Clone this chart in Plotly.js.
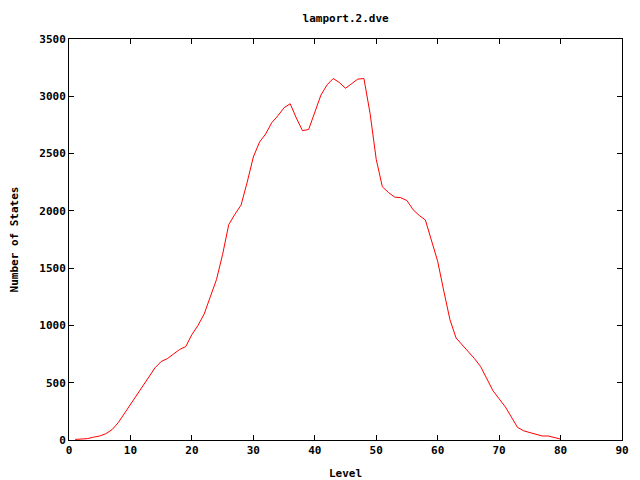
<!DOCTYPE html>
<html>
<head>
<meta charset="utf-8">
<script src="https://cdn.plot.ly/plotly-3.0.1.min.js"></script>
<style>html,body{margin:0;padding:0;background:#fff;}#chart{width:640px;height:480px;}</style>
</head>
<body>
<div id="chart"></div>
<script>
const levels = [1,2,3,4,5,6,7,8,9,10,11,12,13,14,15,16,17,18,19,20,21,22,23,24,25,26,27,28,29,30,31,32,33,34,35,36,37,38,39,40,41,42,43,44,45,46,47,48,49,50,51,52,53,54,55,56,57,58,59,60,61,62,63,64,65,66,67,68,69,70,71,72,73,74,75,76,77,78,79,80];
const states = [5,8,12,25,35,55,90,150,230,320,400,480,560,630,685,710,750,790,815,920,1000,1100,1250,1400,1620,1880,1970,2050,2250,2470,2600,2670,2770,2830,2900,2935,2810,2700,2710,2870,3010,3100,3155,3120,3070,3110,3150,3155,2850,2450,2210,2160,2120,2115,2090,2010,1960,1920,1750,1560,1300,1050,890,830,770,710,640,540,430,360,290,200,110,80,65,45,35,35,20,8];
const chartTitle = "lamport.2.dve";
const xLabel = "Level";
const yLabel = "Number of States";

const font = {family: "DejaVu Sans Mono, Liberation Mono, monospace", size: 11, color: "#000", weight: "bold"};

const trace = {
  x: levels, y: states, type: "scatter", mode: "lines",
  line: {color: "#ff0000", width: 1}, hoverinfo: "none"
};

const axisCommon = {
  showgrid: false, zeroline: false, showline: true, linecolor: "#000", linewidth: 1,
  mirror: "ticks", ticks: "inside", ticklen: 5, tickcolor: "#000", tickwidth: 1,
  tickfont: font
};

const layout = {
  width: 640, height: 480,
  margin: {l: 69, r: 18, t: 39, b: 40},
  paper_bgcolor: "#fff", plot_bgcolor: "#fff",
  showlegend: false,
  font: font,
  title: {text: chartTitle, font: font, x: 0.54, xanchor: "center", y: 0.962, yanchor: "middle"},
  xaxis: Object.assign({}, axisCommon, {range: [0, 90], dtick: 10, tick0: 0,
    title: {text: xLabel, font: font, standoff: 13}}),
  yaxis: Object.assign({}, axisCommon, {range: [0, 3500], dtick: 500, tick0: 0,
    title: {text: yLabel, font: font, standoff: 18}})
};

Plotly.newPlot("chart", [trace], layout, {staticPlot: true, displayModeBar: false});
</script>
</body>
</html>
